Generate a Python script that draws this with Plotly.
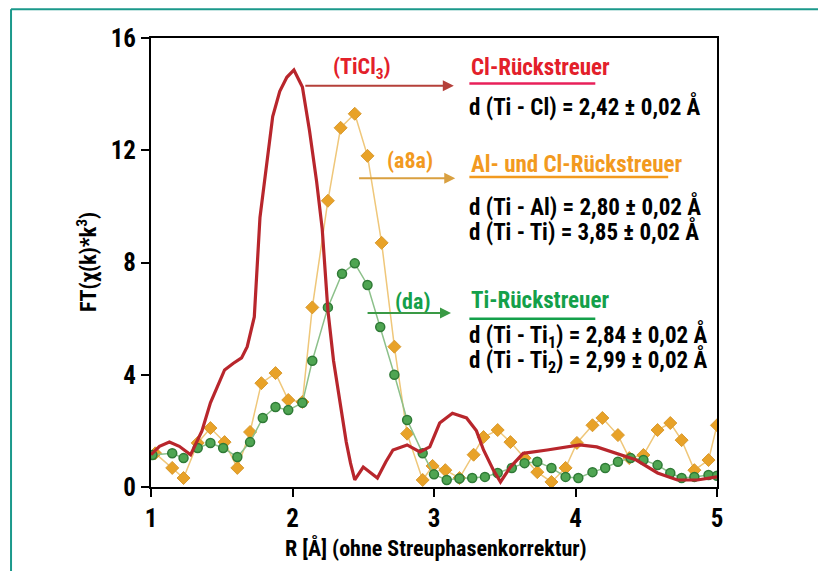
import plotly.graph_objects as go

# ---- data ----
red_R = [1.00, 1.06, 1.13, 1.20, 1.28, 1.36, 1.42, 1.47, 1.52, 1.58, 1.64, 1.68, 1.73, 1.77, 1.82,
         1.86, 1.91, 1.96, 2.01, 2.07, 2.12, 2.17, 2.21, 2.25, 2.29, 2.34, 2.38, 2.41, 2.44, 2.50,
         2.55, 2.60, 2.66, 2.71, 2.81, 2.90, 2.97, 3.04, 3.13, 3.23, 3.30, 3.35, 3.42, 3.47, 3.54,
         3.63, 3.80, 4.03, 4.15, 4.29, 4.43, 4.58, 4.72, 4.86, 5.00]
red_v = [1.15, 1.45, 1.6, 1.45, 1.15, 2.0, 3.0, 3.6, 4.17, 4.4, 4.6, 5.0, 6.06, 9.6, 11.5,
         13.2, 14.1, 14.6, 14.86, 14.25, 12.7, 10.9, 9.2, 6.3, 4.5, 2.85, 1.6, 0.85, 0.25, 0.71,
         0.5, 0.32, 0.9, 1.32, 1.5, 1.25, 1.43, 2.28, 2.63, 2.46, 2.0, 1.32, 0.6, 0.18, 0.71,
         1.2, 1.32, 1.5, 1.43, 1.2, 0.96, 0.5, 0.25, 0.25, 0.36]

orange_R = [1.03, 1.15, 1.23, 1.33, 1.42, 1.52, 1.61, 1.70, 1.78, 1.88, 1.97, 2.07, 2.14, 2.25,
            2.34, 2.44, 2.53, 2.63, 2.72, 2.81, 2.92, 2.99, 3.08, 3.18, 3.28, 3.35, 3.45, 3.54,
            3.64, 3.73, 3.83, 3.93, 4.01, 4.12, 4.19, 4.30, 4.38, 4.48, 4.58, 4.67, 4.75, 4.84,
            4.94, 5.00]
orange_v = [1.2, 0.68, 0.32, 1.57, 2.1, 1.6, 0.68, 1.96, 3.7, 4.06, 3.1, 3.03, 6.4, 10.2,
            12.8, 13.3, 11.8, 8.7, 5.0, 1.9, 0.25, 0.75, 0.6, 0.32, 1.15, 1.78, 2.03, 1.6,
            1.03, 0.53, 0.18, 0.68, 1.57, 2.2, 2.46, 1.85, 1.03, 1.14, 2.03, 2.28, 1.67, 0.6,
            0.96, 2.2]

green_R = [1.01, 1.15, 1.23, 1.33, 1.42, 1.51, 1.61, 1.70, 1.79, 1.88, 1.97, 2.07, 2.14, 2.25,
           2.35, 2.44, 2.53, 2.62, 2.72, 2.81, 2.92, 3.00, 3.09, 3.18, 3.27, 3.36, 3.45, 3.55,
           3.64, 3.73, 3.83, 3.93, 4.02, 4.12, 4.21, 4.30, 4.39, 4.48, 4.58, 4.67, 4.75, 4.84,
           4.94, 5.00]
green_v = [1.14, 1.2, 1.03, 1.39, 1.57, 1.39, 1.07, 1.6, 2.46, 2.85, 2.74, 3.0, 4.5, 6.4,
           7.6, 7.97, 7.2, 5.7, 4.0, 2.39, 1.2, 0.45, 0.25, 0.3, 0.32, 0.36, 0.5, 0.68,
           0.85, 0.9, 0.68, 0.36, 0.32, 0.53, 0.68, 0.9, 1.03, 0.96, 0.78, 0.5, 0.32, 0.36,
           0.43, 0.4]

x_ticks = [1, 2, 3, 4, 5]
y_ticks = [0, 4, 8, 12, 16]

FONT = ("Noto Sans ExtraCondensed, Noto Sans Condensed, Roboto Condensed, "
        "Liberation Sans Narrow, Roboto, sans-serif")
RED = "#e3202a"
ORANGE = "#f29a1f"
GREEN = "#14a04a"

fig = go.Figure()

fig.add_trace(go.Scatter(
    x=orange_R, y=orange_v, mode="lines+markers",
    line=dict(color="#efc77a", width=1.5),
    marker=dict(symbol="diamond", size=10, color="#e8a228", line=dict(color="#d99a30", width=1)),
    showlegend=False))

fig.add_trace(go.Scatter(
    x=green_R, y=green_v, mode="lines+markers",
    line=dict(color="#8cc08a", width=1.5),
    marker=dict(symbol="circle", size=9, color="#4fa552", line=dict(color="#2f7a36", width=1.5)),
    showlegend=False))

fig.add_trace(go.Scatter(
    x=red_R, y=red_v, mode="lines",
    line=dict(color="#b8262c", width=3.2),
    showlegend=False))

annotations = []
# labels near curves
annotations.append(dict(x=2.49, y=14.9, xref="x", yref="y", text="<b>(TiCl<sub>3</sub>)</b>",
                        showarrow=False, font=dict(family=FONT, size=22, color=RED),
                        bgcolor="white"))
annotations.append(dict(x=2.83, y=11.65, xref="x", yref="y", text="<b>(a8a)</b>",
                        showarrow=False, font=dict(family=FONT, size=22, color=ORANGE),
                        bgcolor="white"))
annotations.append(dict(x=2.85, y=6.6, xref="x", yref="y", text="<b>(da)</b>",
                        showarrow=False, font=dict(family=FONT, size=22, color=GREEN),
                        bgcolor="white"))

# arrows
for (x0, x1, yy, col) in [(2.08, 3.14, 14.3, "#b5403a"),
                          (2.46, 3.15, 11.0, "#d9a040"),
                          (2.52, 3.12, 6.2, "#3a9a45")]:
    annotations.append(dict(x=x1, y=yy, ax=x0, ay=yy, xref="x", yref="y", axref="x", ayref="y",
                            text="", showarrow=True, arrowhead=2, arrowsize=1.1,
                            arrowwidth=2, arrowcolor=col))

# right side texts
def txt(x, y, s, col, size=23):
    annotations.append(dict(x=x, y=y, xref="x", yref="y", text=s, showarrow=False,
                            xanchor="left", yanchor="middle",
                            font=dict(family=FONT, size=size, color=col)))

txt(3.25, 14.95, "<b>Cl-Rückstreuer</b>", RED)
txt(3.23, 13.55, "<b>d (Ti - Cl) = 2,42 ± 0,02 Å</b>", "black")
txt(3.25, 11.5, "<b>Al- und Cl-Rückstreuer</b>", ORANGE)
txt(3.23, 9.98, "<b>d (Ti - Al) = 2,80 ± 0,02 Å</b>", "black")
txt(3.23, 9.12, "<b>d (Ti - Ti) = 3,85 ± 0,02 Å</b>", "black")
txt(3.25, 6.65, "<b>Ti-Rückstreuer</b>", GREEN)
txt(3.23, 5.38, "<b>d (Ti - Ti<sub>1</sub>) = 2,84 ± 0,02 Å</b>", "black")
txt(3.23, 4.48, "<b>d (Ti - Ti<sub>2</sub>) = 2,99 ± 0,02 Å</b>", "black")

# axis titles
annotations.append(dict(x=-0.112, y=0.50, xref="paper", yref="paper", textangle=-90,
                        xanchor="center", yanchor="middle",
                        text="<b>FT(χ(k)*k<sup>3</sup>)</b>", showarrow=False,
                        font=dict(family=FONT, size=22, color="black")))
annotations.append(dict(x=0.5035, y=-0.136, xref="paper", yref="paper",
                        xanchor="center", yanchor="middle",
                        text="<b>R [Å] (ohne Streuphasenkorrektur)</b>", showarrow=False,
                        font=dict(family=FONT, size=22, color="black")))

shapes = []
# underlines
for (x0, x1, yy, col) in [(3.25, 4.14, 14.38, "#e8205a"),
                          (3.25, 4.655, 11.05, ORANGE),
                          (3.25, 4.14, 6.0, GREEN)]:
    shapes.append(dict(type="line", xref="x", yref="y", x0=x0, x1=x1, y0=yy, y1=yy,
                       line=dict(color=col, width=2.5)))
# teal frame (left and top)
shapes.append(dict(type="line", xref="paper", yref="paper", x0=-0.2473, x1=-0.2473,
                   y0=1.064, y1=-0.2, line=dict(color="#1b998b", width=2)))
shapes.append(dict(type="line", xref="paper", yref="paper", x0=-0.2473, x1=1.2,
                   y0=1.064, y1=1.064, line=dict(color="#1b998b", width=2)))

fig.update_layout(
    width=818, height=571, autosize=False,
    margin=dict(l=151, r=101, t=38, b=84),
    paper_bgcolor="white", plot_bgcolor="white",
    annotations=annotations, shapes=shapes,
    font=dict(family=FONT, color="black"),
)
fig.update_xaxes(range=[1, 5], tickvals=x_ticks, ticktext=[f"<b>{t}</b>" for t in x_ticks],
                 showgrid=False, zeroline=False, showline=True, linecolor="black", linewidth=2,
                 mirror=True, ticks="outside", ticklen=8, tickwidth=2, tickcolor="black",
                 tickfont=dict(family=FONT, size=25, color="black"))
fig.update_yaxes(range=[0, 16], tickvals=y_ticks, ticktext=[f"<b>{t}</b>" for t in y_ticks],
                 showgrid=False, zeroline=False, showline=True, linecolor="black", linewidth=2,
                 mirror=True, ticks="outside", ticklen=8, tickwidth=2, tickcolor="black",
                 tickfont=dict(family=FONT, size=25, color="black"))

fig.write_html("out.html")
